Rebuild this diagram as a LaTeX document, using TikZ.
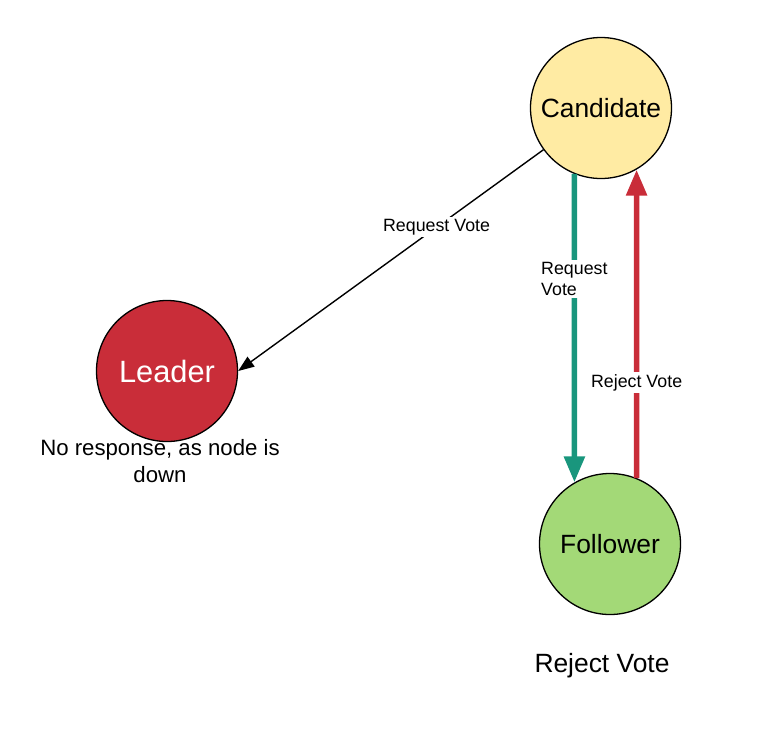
\documentclass[tikz,border=0pt]{standalone}
\usepackage{fontspec}
\setmainfont{Liberation Sans}
\usetikzlibrary{arrows.meta}
\usepackage{xcolor}
\definecolor{candfill}{HTML}{FFEBA3}
\definecolor{leadred}{HTML}{C92D39}
\definecolor{follfill}{HTML}{A3D977}
\definecolor{reqgreen}{HTML}{19967D}

\begin{document}
\begin{tikzpicture}[x=1pt,y=-1pt]
		\tikzstyle{state}=[draw,circle,line width=1.3pt,minimum size=141pt,inner sep=0pt]
		\tikzstyle{lbl}=[fill=white,inner sep=2pt,font=\fontsize{17.8}{21}\selectfont]
		\tikzstyle{big}=[font=\fontsize{26.4}{31}\selectfont]
		\useasboundingbox (0,0) rectangle (762,739);
		\node [state,fill=candfill,big] (cand) at (601,108) {Candidate};
		\node [state,fill=leadred,text=white,font=\fontsize{30.8}{36}\selectfont] (lead) at (167,371) {Leader};
		\node [state,fill=follfill,big] (foll) at (610,544) {Follower};
		\node [font=\fontsize{22.2}{27}\selectfont,align=center] (downnote) at (160,461) {No response, as node is\\down};
		\node [big] (rejnote) at (602,666) {Reject Vote};
		% votes
		\draw [line width=1.4pt,-{Triangle[width=12pt,length=16pt]}] (cand) -- node [lbl,pos=0.35] {Request Vote} (lead.east);
		\draw [reqgreen,line width=5.5pt,-{Triangle[width=20pt,length=26pt]}] (cand.248.5) -- node [lbl,text=black,align=left,pos=0.34] {Request\\Vote} (foll.120);
		\draw [leadred,line width=5.5pt,-{Triangle[width=20pt,length=26pt]}] (foll.68) -- node [lbl,text=black,pos=0.31] {Reject Vote} (cand.300);
\end{tikzpicture}
\end{document}
